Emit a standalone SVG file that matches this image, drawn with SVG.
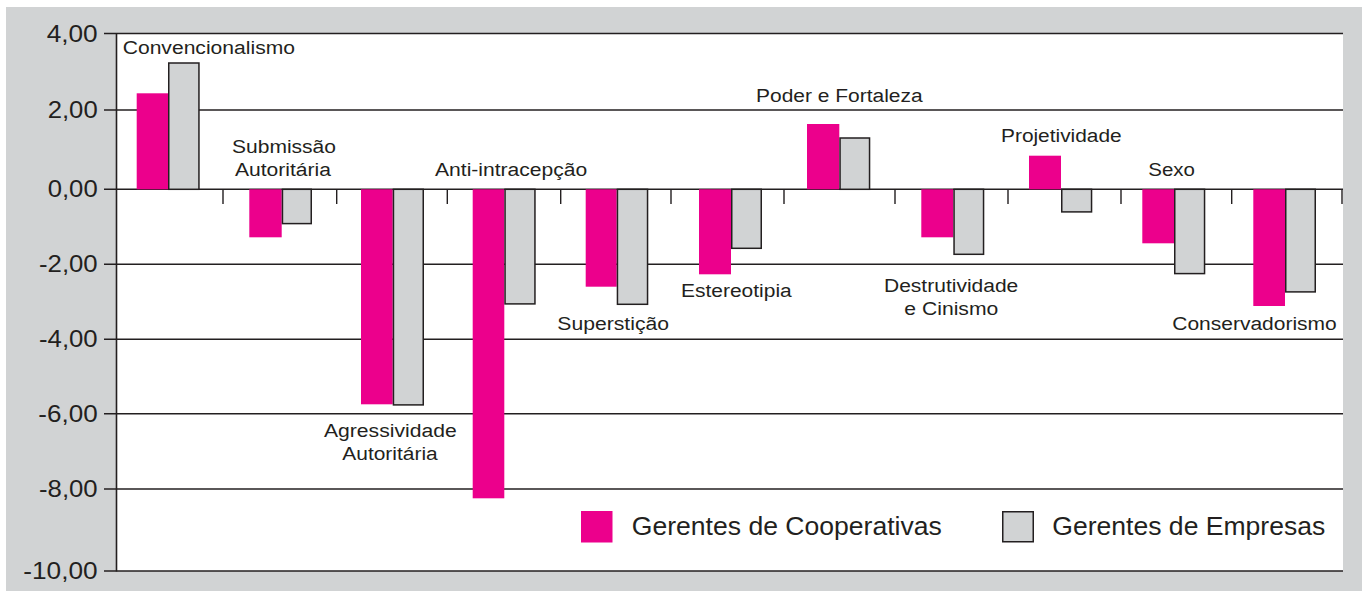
<svg xmlns="http://www.w3.org/2000/svg" width="1368" height="592" viewBox="0 0 1368 592">
<style>
  .t{font-family:"Liberation Sans",Arial,Helvetica,sans-serif;fill:#231f20;}
  .ax{font-size:23.7px;}
  .cat{font-size:19.2px;}
  .lg{font-size:25.6px;}
  .grid{stroke:#231f20;stroke-width:1.4;fill:none;}
  .m{fill:#ec008c;}
  .g{fill:#d1d3d4;stroke:#231f20;stroke-width:1.5;}
</style>
<rect x="0" y="0" width="1368" height="592" fill="#ffffff"/>
<rect x="6" y="7" width="1356" height="584" fill="#d1d3d4"/>
<rect x="116.5" y="33.5" width="1226.5" height="537.5" fill="#ffffff"/>

<g id="axes">
  <g class="grid">
    <line x1="104" y1="33.5" x2="1343" y2="33.5"/>
    <line x1="104" y1="110" x2="1343" y2="110"/>
    <line x1="104" y1="189.3" x2="1343" y2="189.3"/>
    <line x1="104" y1="264.3" x2="1343" y2="264.3"/>
    <line x1="104" y1="339.3" x2="1343" y2="339.3"/>
    <line x1="104" y1="413.7" x2="1343" y2="413.7"/>
    <line x1="104" y1="489" x2="1343" y2="489"/>
    <line x1="104" y1="571" x2="1343" y2="571"/>
    <line x1="116.5" y1="33" x2="116.5" y2="571.5" stroke-width="1.6"/>
    <path d="M223 189.3V204M336.7 189.3V204M447.3 189.3V204M560.7 189.3V204M671 189.3V204M784 189.3V204M895 189.3V204M1008 189.3V204M1121 189.3V204M1231.7 189.3V204M1342 189.3V204"/>
  </g>
  <text class="t ax" x="46.7" y="41.5" textLength="51" lengthAdjust="spacingAndGlyphs">4,00</text>
  <text class="t ax" x="47.7" y="118.3" textLength="50" lengthAdjust="spacingAndGlyphs">2,00</text>
  <text class="t ax" x="47.7" y="197.3" textLength="50" lengthAdjust="spacingAndGlyphs">0,00</text>
  <text class="t ax" x="39" y="272.3" textLength="58.7" lengthAdjust="spacingAndGlyphs">-2,00</text>
  <text class="t ax" x="39" y="347" textLength="58.7" lengthAdjust="spacingAndGlyphs">-4,00</text>
  <text class="t ax" x="38.3" y="421.7" textLength="59.4" lengthAdjust="spacingAndGlyphs">-6,00</text>
  <text class="t ax" x="39" y="497.3" textLength="58.7" lengthAdjust="spacingAndGlyphs">-8,00</text>
  <text class="t ax" x="23.3" y="579" textLength="74.4" lengthAdjust="spacingAndGlyphs">-10,00</text>
</g>

<g id="connectors"></g>

<g id="convencionalismo">
  <rect class="m" x="136.7" y="93.3" width="31.3" height="96"/>
  <rect class="g" x="168.75" y="63" width="30.2" height="126.3"/>
  <text class="t cat" x="122.7" y="54" textLength="172.3" lengthAdjust="spacingAndGlyphs">Convencionalismo</text>
</g>
<g id="submissao-autoritaria">
  <rect class="m" x="249.3" y="189.3" width="32.4" height="48"/>
  <rect class="g" x="282.45" y="189.3" width="28.8" height="34.3"/>
  <text class="t cat" x="232" y="153.3" textLength="104" lengthAdjust="spacingAndGlyphs">Submissão</text>
  <text class="t cat" x="235" y="176" textLength="96" lengthAdjust="spacingAndGlyphs">Autoritária</text>
</g>
<g id="agressividade-autoritaria">
  <rect class="m" x="361" y="189.3" width="31.7" height="215"/>
  <rect class="g" x="393.45" y="189.3" width="29.8" height="215.6"/>
  <text class="t cat" x="324" y="436.7" textLength="132.7" lengthAdjust="spacingAndGlyphs">Agressividade</text>
  <text class="t cat" x="342.3" y="460" textLength="95.4" lengthAdjust="spacingAndGlyphs">Autoritária</text>
</g>
<g id="anti-intracepcao">
  <rect class="m" x="472.7" y="189.3" width="31.6" height="309"/>
  <rect class="g" x="505.05" y="189.3" width="29.9" height="114.6"/>
  <text class="t cat" x="435" y="176" textLength="152.3" lengthAdjust="spacingAndGlyphs">Anti-intracepção</text>
</g>
<g id="supersticao">
  <rect class="m" x="585.7" y="189.3" width="31" height="97.4"/>
  <rect class="g" x="617.45" y="189.3" width="30.1" height="115"/>
  <text class="t cat" x="557.3" y="330" textLength="111.7" lengthAdjust="spacingAndGlyphs">Superstição</text>
</g>
<g id="estereotipia">
  <rect class="m" x="699" y="189.3" width="32" height="85"/>
  <rect class="g" x="731.75" y="189.3" width="29.5" height="59"/>
  <text class="t cat" x="681" y="297" textLength="110.7" lengthAdjust="spacingAndGlyphs">Estereotipia</text>
</g>
<g id="poder-e-fortaleza">
  <rect class="m" x="807" y="124" width="32.3" height="65.3"/>
  <rect class="g" x="840.05" y="138" width="29.5" height="51.3"/>
  <text class="t cat" x="756" y="102.3" textLength="166.7" lengthAdjust="spacingAndGlyphs">Poder e Fortaleza</text>
</g>
<g id="destrutividade-e-cinismo">
  <rect class="m" x="921.3" y="189.3" width="32" height="48"/>
  <rect class="g" x="954.05" y="189.3" width="29.5" height="65"/>
  <text class="t cat" x="884" y="292.3" textLength="134.3" lengthAdjust="spacingAndGlyphs">Destrutividade</text>
  <text class="t cat" x="904.3" y="315" textLength="94" lengthAdjust="spacingAndGlyphs">e Cinismo</text>
</g>
<g id="projetividade">
  <rect class="m" x="1029" y="155.7" width="32" height="33.6"/>
  <rect class="g" x="1061.75" y="189.3" width="29.8" height="22.6"/>
  <text class="t cat" x="1001" y="141.7" textLength="120.7" lengthAdjust="spacingAndGlyphs">Projetividade</text>
</g>
<g id="sexo">
  <rect class="m" x="1142.3" y="189.3" width="31.7" height="54"/>
  <rect class="g" x="1174.75" y="189.3" width="29.8" height="84.3"/>
  <text class="t cat" x="1148.3" y="176" textLength="46.7" lengthAdjust="spacingAndGlyphs">Sexo</text>
</g>
<g id="conservadorismo">
  <rect class="m" x="1253.3" y="189.3" width="31.7" height="116.7"/>
  <rect class="g" x="1285.75" y="189.3" width="29.5" height="102.6"/>
  <text class="t cat" x="1172.3" y="330" textLength="164.4" lengthAdjust="spacingAndGlyphs">Conservadorismo</text>
</g>

<g id="legend">
  <rect class="m" x="581" y="511" width="31.5" height="31.5"/>
  <text class="t lg" x="631.8" y="535" textLength="310" lengthAdjust="spacingAndGlyphs">Gerentes de Cooperativas</text>
  <rect class="g" x="1002.75" y="511.75" width="30.5" height="30"/>
  <text class="t lg" x="1052.3" y="535" textLength="273" lengthAdjust="spacingAndGlyphs">Gerentes de Empresas</text>
</g>
</svg>
